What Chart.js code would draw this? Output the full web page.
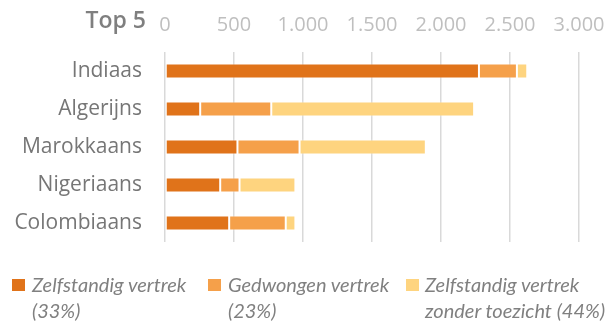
<!DOCTYPE html>
<html>
<head>
<meta charset="utf-8">
<script src="https://cdn.jsdelivr.net/npm/chart.js@4/dist/chart.umd.min.js"></script>
<style>
  html, body { margin: 0; padding: 0; background: #fff; }
  #wrap { position: relative; width: 609px; height: 328px; }
  #legend { position: absolute; left: 0; top: 271px; width: 609px; height: 57px; }
  .item { position: absolute; top: 0; font: italic 20px Lato, sans-serif; color: #808080; line-height: 26px; }
  .item .box { position: absolute; left: 0; top: 8px; width: 13px; height: 12px; }
  .item .txt { position: absolute; top: 0; white-space: nowrap; }
</style>
</head>
<body>
<div id="wrap">
  <canvas id="chart" width="609" height="328"></canvas>
  <div id="legend"></div>
</div>
<script>
var title = 'Top 5';
var categories = ['Indiaas', 'Algerijns', 'Marokkaans', 'Nigeriaans', 'Colombiaans'];
var zelfstandig = [2275, 255, 525, 400, 465];
var gedwongen = [275, 515, 450, 140, 410];
var zonderToezicht = [75, 1470, 915, 405, 70];
var seriesNames = [
  ['Zelfstandig vertrek', '(33%)'],
  ['Gedwongen vertrek', '(23%)'],
  ['Zelfstandig vertrek', 'zonder toezicht (44%)']
];
var xTicks = [0, 500, 1000, 1500, 2000, 2500, 3000];

var colors = ['#E0731A', '#F5A04A', '#FED47F'];

function fmt(v){
  // thousands with a dot
  return String(v).replace(/\B(?=(\d{3})+(?!\d))/g, '.');
}

var topLabel = {
  id: 'topLabel',
  afterDraw: function(chart){
    var ctx = chart.ctx;
    ctx.save();
    ctx.font = '600 23px "Open Sans", sans-serif';
    ctx.fillStyle = '#7F7F7F';
    ctx.textAlign = 'right';
    ctx.textBaseline = 'alphabetic';
    ctx.fillText(title, 146, 28);
    ctx.restore();
  }
};

var data = {
  labels: categories,
  datasets: [zelfstandig, gedwongen, zonderToezicht].map(function(vals, i){
    return {
      label: seriesNames[i].join(' '),
      data: vals,
      backgroundColor: colors[i],
      borderColor: 'rgba(255,255,255,0.45)',
      borderWidth: 1,
      borderSkipped: false,
      categoryPercentage: 1,
      barPercentage: 0.4
    };
  })
};

var ctx = document.getElementById('chart').getContext('2d');
var chart = new Chart(ctx, {
  type: 'bar',
  data: data,
  plugins: [topLabel],
  options: {
    indexAxis: 'y',
    responsive: false,
    animation: false,
    layout: { padding: { left: 0, right: 30, top: 0, bottom: 86 } },
    plugins: {
      legend: { display: false },
      tooltip: { enabled: false }
    },
    scales: {
      x: {
        position: 'top',
        stacked: true,
        min: 0,
        max: 3000,
        afterBuildTicks: function(scale){
          scale.ticks = xTicks.map(function(v){ return { value: v }; });
        },
        afterFit: function(scale){
          scale.height = 52;
          // the end labels may hang over the plot edges
          scale.paddingLeft = 0;
          scale.paddingRight = 0;
        },
        grid: { color: '#D9D9D9', lineWidth: 1.5, drawTicks: false },
        border: { display: false },
        ticks: {
          color: '#BFBFBF',
          padding: 15,
          font: { family: '"Open Sans", sans-serif', size: 20 },
          callback: function(v){ return fmt(v); }
        }
      },
      y: {
        stacked: true,
        afterFit: function(scale){ scale.width = 165; },
        grid: { display: false },
        border: { display: false },
        ticks: {
          color: '#767676',
          padding: 15,
          font: { family: '"Open Sans", sans-serif', size: 21 }
        }
      }
    }
  }
});

// legend under the chart
var legendX = [[12, 32], [208, 228], [406, 425]];
var legend = document.getElementById('legend');
seriesNames.forEach(function(name, i){
  var item = document.createElement('div');
  item.className = 'item';
  item.style.left = legendX[i][0] + 'px';
  var box = document.createElement('span');
  box.className = 'box';
  box.style.background = colors[i];
  var txt = document.createElement('span');
  txt.className = 'txt';
  txt.style.left = (legendX[i][1] - legendX[i][0]) + 'px';
  txt.innerHTML = name[0] + '<br>' + name[1];
  item.appendChild(box);
  item.appendChild(txt);
  legend.appendChild(item);
});
</script>
</body>
</html>
